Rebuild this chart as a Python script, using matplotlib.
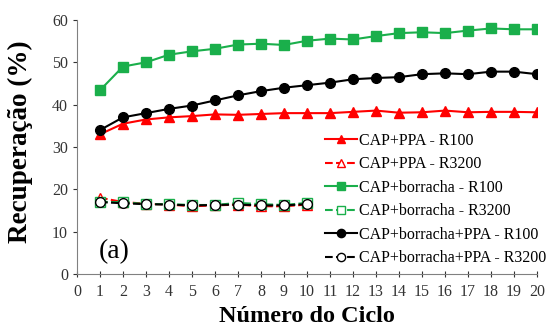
import matplotlib
matplotlib.use("Agg")
import matplotlib.pyplot as plt

# Data
ciclos_r100 = list(range(1, 21))
ciclos_r3200 = list(range(1, 11))

cap_ppa_r100 = [33.0, 35.5, 36.5, 37.0, 37.3, 37.7, 37.6, 37.8, 38.0, 38.0,
                38.0, 38.3, 38.6, 38.1, 38.2, 38.6, 38.2, 38.3, 38.3, 38.2]
cap_ppa_r3200 = [18.0, 17.0, 16.6, 16.4, 16.0, 16.2, 16.4, 16.0, 16.0, 16.4]
cap_borr_r100 = [43.4, 49.0, 50.0, 51.8, 52.6, 53.2, 54.2, 54.4, 54.1, 55.1,
                 55.6, 55.4, 56.2, 56.9, 57.1, 56.9, 57.5, 58.0, 57.8, 57.8]
cap_borr_r3200 = [17.0, 17.0, 16.5, 16.5, 16.3, 16.3, 16.8, 16.5, 16.3, 16.8]
cap_borr_ppa_r100 = [34.0, 37.0, 38.0, 39.0, 39.8, 41.0, 42.2, 43.2, 44.0, 44.6,
                     45.2, 46.0, 46.3, 46.5, 47.2, 47.4, 47.2, 47.8, 47.8, 47.2]
cap_borr_ppa_r3200 = [17.0, 16.7, 16.5, 16.4, 16.2, 16.3, 16.4, 16.2, 16.2, 16.5]

RED = "#ff0000"
GREEN = "#1aaf4b"

plt.rcParams["font.family"] = ["Liberation Serif", "DejaVu Serif"]

fig = plt.figure(figsize=(5.51, 3.31), dpi=100)
ax = fig.add_axes([0.1397, 0.1722, 0.8349, 0.7674])

ax.plot(ciclos_r100, cap_ppa_r100, "-", color=RED, lw=1.5, marker="^", ms=7,
        label="CAP+PPA - R100")
ax.plot(ciclos_r3200, cap_ppa_r3200, "--", color=RED, lw=1.5, marker="^", ms=7,
        mfc="white", label="CAP+PPA - R3200")
ax.plot(ciclos_r100, cap_borr_r100, "-", color=GREEN, lw=1.5, marker="s", ms=7,
        label="CAP+borracha - R100")
ax.plot(ciclos_r3200, cap_borr_r3200, "--", color=GREEN, lw=1.5, marker="s", ms=7,
        mfc="white", label="CAP+borracha - R3200")
ax.plot(ciclos_r100, cap_borr_ppa_r100, "-", color="black", lw=1.5, marker="o", ms=7,
        label="CAP+borracha+PPA - R100")
ax.plot(ciclos_r3200, cap_borr_ppa_r3200, "--", color="black", lw=1.5, marker="o", ms=7,
        mfc="white", label="CAP+borracha+PPA - R3200")

ax.set_xlim(0, 20)
ax.set_ylim(0, 60)
ax.set_xticks(range(0, 21))
ax.set_yticks(range(0, 61, 10))
ax.tick_params(labelsize=11.5, colors="#333333", length=3, width=0.8)
ax.tick_params(axis="x", direction="inout", length=5, pad=5)
for side in ("top", "right"):
    ax.spines[side].set_visible(False)
for side in ("left", "bottom"):
    ax.spines[side].set_color("#808080")

ax.set_xlabel("Número do Ciclo", fontsize=17.5, fontweight="bold")
ax.set_ylabel("Recuperação (%)", fontsize=19.5, fontweight="bold")
ax.xaxis.set_label_coords(0.5, -0.125)
ax.yaxis.set_label_coords(-0.096, 0.52)
ax.text(0.95, 5.3, "(a)", fontsize=20, va="center", ha="left")

ax.legend(loc="lower right", bbox_to_anchor=(1.044, -0.014), frameon=False,
          fontsize=11.5, handlelength=2.0, handletextpad=0.1, labelspacing=0.47,
          borderpad=0.2, markerscale=0.85)

fig.savefig("out.png", dpi=100)
